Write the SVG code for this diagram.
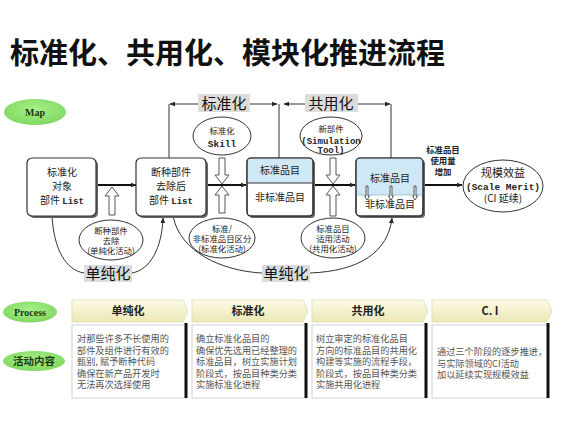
<svg xmlns="http://www.w3.org/2000/svg" width="579" height="434" viewBox="0 0 579 434">
<defs>
<marker id="ah" viewBox="0 0 10 10" refX="9" refY="5" markerWidth="6" markerHeight="6" orient="auto-start-reverse" markerUnits="userSpaceOnUse">
<path d="M0,1 L10,5 L0,9 z" fill="#222"/>
</marker>
<linearGradient id="chev" x1="0" y1="0" x2="0" y2="1">
<stop offset="0" stop-color="#fdfbe6"/>
<stop offset="1" stop-color="#ece7b4"/>
</linearGradient>
<radialGradient id="grn" cx="0.5" cy="0.4" r="0.6">
<stop offset="0" stop-color="#a8f08a"/>
<stop offset="1" stop-color="#7fd860"/>
</radialGradient>
</defs>
<style>
.cjk{font-family:"Noto Sans CJK SC","Liberation Sans",sans-serif;}
.t{font-family:"Noto Sans CJK SC","Liberation Sans",sans-serif;font-size:10px;fill:#222;text-anchor:middle;}
.s{font-family:"Noto Sans CJK SC","Liberation Sans",sans-serif;font-size:8.4px;fill:#222;text-anchor:middle;}
.m{font-family:"Liberation Mono","Noto Sans CJK SC",monospace;font-size:9.5px;fill:#222;font-weight:bold;}
.box{fill:#fff;stroke:#333;stroke-width:1.2;}
.shadow{fill:#666;}
.ell{fill:#fff;stroke:#333;stroke-width:1;}
.lbl{fill:#dcdcdc;}
.lt{font-family:"Noto Sans CJK SC","Liberation Sans",sans-serif;font-size:15px;fill:#111;text-anchor:middle;}
.ln{stroke:#333;stroke-width:1;fill:none;}
.main{stroke:#111;stroke-width:2;fill:none;marker-end:url(#ah);}
.hol{fill:#fff;stroke:#555;stroke-width:1;}
.g{fill:url(#grn);}
.gt{font-family:"Liberation Serif","Noto Sans CJK SC",serif;font-size:10px;font-weight:bold;fill:#1a3a10;text-anchor:middle;}
.ch{fill:url(#chev);stroke:#e4e0b8;stroke-width:1;}
.cht{font-family:"Noto Sans CJK SC","Liberation Sans",sans-serif;font-size:11px;font-weight:bold;fill:#222;text-anchor:middle;}
.cb{fill:#fff;stroke:#d0d0d0;stroke-width:1;}
.cbr{stroke:#111;stroke-width:3;}
.ct{font-family:"Noto Sans CJK SC","Liberation Sans",sans-serif;font-size:9.2px;fill:#555;}
</style>
<rect width="579" height="434" fill="#fff"/>
<text x="10" y="64" class="cjk" font-size="29" font-weight="bold" fill="#111">标准化、共用化、模块化推进流程</text>

<g id="map-label">
<ellipse cx="35" cy="112" rx="31" ry="13" class="g"/>
<text x="35" y="116" class="gt">Map</text>
</g>

<g id="connectors">
<line x1="170" y1="104" x2="277" y2="104" class="ln" marker-start="url(#ah)" marker-end="url(#ah)"/>
<line x1="284" y1="104" x2="390" y2="104" class="ln" marker-start="url(#ah)" marker-end="url(#ah)"/>
<line x1="169" y1="104" x2="169" y2="158" class="ln"/>
<line x1="279" y1="104" x2="279" y2="158" class="ln"/>
<line x1="391" y1="104" x2="391" y2="158" class="ln"/>
<path d="M109,215 L109,196 L105,196 L112,187 L119,196 L115,196 L115,215 Z" class="hol"/>
<path d="M219,158 L219,175 L215,175 L222,184 L229,175 L225,175 L225,158 Z" class="hol"/>
<path d="M219,213 L219,195 L215,195 L222,186 L229,195 L225,195 L225,213 Z" class="hol"/>
<path d="M330,158 L330,175 L326,175 L333,184 L340,175 L336,175 L336,158 Z" class="hol"/>
<path d="M330,216 L330,195 L326,195 L333,186 L340,195 L336,195 L336,216 Z" class="hol"/>
<line x1="97" y1="185" x2="136" y2="185" class="main"/>
<line x1="207" y1="185" x2="246" y2="185" class="main"/>
<line x1="314" y1="185" x2="355" y2="185" class="main"/>
<line x1="424" y1="185" x2="462" y2="185" class="main"/>
<path d="M52,216 C54,250 66,270 84,273" class="ln"/>
<path d="M132,273 C150,270 162,248 163,218" class="ln" marker-end="url(#ah)"/>
<path d="M173,216 C180,252 222,271 262,273" class="ln"/>
<path d="M310,273 C360,271 388,252 392,218" class="ln" marker-end="url(#ah)"/>
</g>

<g id="dim-std">
<rect x="198" y="94" width="52" height="18" class="lbl"/>
<text x="224" y="109" class="lt">标准化</text>
</g>
<g id="dim-common">
<rect x="305" y="94" width="53" height="18" class="lbl"/>
<text x="331" y="109" class="lt">共用化</text>
</g>

<g id="node-target-list">
<rect x="29" y="160" width="69" height="58" rx="5" class="shadow"/>
<rect x="27" y="158" width="69" height="58" rx="5" class="box"/>
<text class="t"><tspan x="62" y="176">标准化</tspan><tspan x="62" y="190">对象</tspan><tspan x="62" y="204">部件 <tspan class="m" style="font-size:9px">List</tspan></tspan></text>
</g>

<g id="node-after-list">
<rect x="138" y="160" width="70" height="58" rx="5" class="shadow"/>
<rect x="136" y="158" width="70" height="58" rx="5" class="box"/>
<text class="t"><tspan x="171" y="176">断种部件</tspan><tspan x="171" y="190">去除后</tspan><tspan x="171" y="204">部件 <tspan class="m" style="font-size:9px">List</tspan></tspan></text>
</g>

<g id="node-items-1">
<rect x="249" y="160" width="66" height="58" rx="4" class="shadow"/>
<rect x="247" y="158" width="66" height="58" rx="4" class="box"/>
<path d="M247.6,183 L247.6,162 Q247.6,158.6 251,158.6 L309,158.6 Q312.4,158.6 312.4,162 L312.4,183 Z" fill="#cfe8f6"/>
<line x1="247" y1="183" x2="313" y2="183" stroke="#333" stroke-width="1"/>
<rect x="247" y="158" width="66" height="58" rx="4" fill="none" stroke="#333" stroke-width="1.2"/>
<text x="280" y="174" class="t">标准品目</text>
<text x="280" y="201" class="t">非标准品目</text>
</g>

<g id="node-items-2">
<rect x="358" y="160" width="67" height="58" rx="4" class="shadow"/>
<rect x="356" y="158" width="67" height="58" rx="4" class="box"/>
<path d="M356.6,195 L356.6,162 Q356.6,158.6 360,158.6 L419,158.6 Q422.4,158.6 422.4,162 L422.4,195 Z" fill="#cfe8f6"/>
<line x1="356" y1="195" x2="423" y2="195" stroke="#7aa" stroke-width="0.6"/>
<rect x="356" y="158" width="67" height="58" rx="4" fill="none" stroke="#333" stroke-width="1.2"/>
<text x="390" y="182" class="t">标准品目</text>
<text x="390" y="208" class="t">非标准品目</text>
<path d="M366,186 L366,196 L364.5,196 L367,200 L369.5,196 L368,196 L368,186 Z" class="hol"/>
<path d="M390,186 L390,196 L388.5,196 L391,200 L393.5,196 L392,196 L392,186 Z" class="hol"/>
<path d="M414,186 L414,196 L412.5,196 L415,200 L417.5,196 L416,196 L416,186 Z" class="hol"/>
</g>

<g id="usage-label">
<text class="s" font-weight="bold" font-size="9.5"><tspan x="443" y="153">标准品目</tspan><tspan x="443" y="164">使用量</tspan><tspan x="443" y="175">增加</tspan></text>
</g>

<g id="node-scale-merit">
<ellipse cx="503" cy="186" rx="40" ry="26" class="ell" stroke-width="1.4"/>
<text class="t"><tspan x="503" y="177" font-size="11">规模效益</tspan><tspan x="503" y="190" class="m">(Scale Merit)</tspan><tspan x="503" y="202">(CI 延续)</tspan></text>
</g>

<g id="ell-skill">
<ellipse cx="222" cy="136" rx="29" ry="19" class="ell"/>
<text class="s" font-size="9.5"><tspan x="222" y="134">标准化</tspan><tspan x="222" y="147" class="m">Skill</tspan></text>
</g>

<g id="ell-newpart">
<ellipse cx="331" cy="136" rx="31" ry="19" class="ell"/>
<text class="s" font-size="9.5"><tspan x="331" y="132">新部件</tspan><tspan x="331" y="144" class="m" style="font-size:9px">(Simulation</tspan><tspan x="331" y="153" class="m" style="font-size:9px">Tool)</tspan></text>
</g>

<g id="ell-discontinue">
<ellipse cx="111" cy="240" rx="32" ry="20" class="ell"/>
<text class="s"><tspan x="111" y="233.5">断种部件</tspan><tspan x="111" y="244">去除</tspan><tspan x="111" y="254">(单纯化活动)</tspan></text>
</g>

<g id="ell-classify">
<ellipse cx="222" cy="238" rx="33" ry="20" class="ell"/>
<text class="s"><tspan x="222" y="231.5">标准/</tspan><tspan x="222" y="242">非标准品目区分</tspan><tspan x="222" y="252">(标准化活动)</tspan></text>
</g>

<g id="ell-apply">
<ellipse cx="333" cy="238" rx="32" ry="20" class="ell"/>
<text class="s"><tspan x="333" y="231.5">标准品目</tspan><tspan x="333" y="242">适用活动</tspan><tspan x="333" y="252">(共用化活动)</tspan></text>
</g>

<g id="simplify-1">
<rect x="84" y="265" width="48" height="17" class="lbl"/>
<text x="108" y="279" class="lt">单纯化</text>
</g>
<g id="simplify-2">
<rect x="262" y="265" width="48" height="17" class="lbl"/>
<text x="286" y="279" class="lt">单纯化</text>
</g>

<g id="process-label">
<ellipse cx="30" cy="312" rx="27" ry="10.5" class="g"/>
<text x="30" y="315.5" class="gt">Process</text>
</g>
<g id="activity-label">
<ellipse cx="34" cy="361" rx="31" ry="10" class="g"/>
<text x="34" y="365" class="cjk" font-size="10.5" font-weight="bold" fill="#1a3a10" text-anchor="middle">活动内容</text>
</g>

<g id="phase-simplify">
<path d="M72,300 L183,300 L188,311 L183,322 L72,322 Z" class="ch"/>
<text x="128" y="315" class="cht">单纯化</text>
<rect x="72" y="325" width="114" height="73" class="cb"/>
<line x1="186" y1="323" x2="186" y2="398" class="cbr"/>
<text class="ct"><tspan x="77" y="342">对那些许多不长使用的</tspan><tspan x="77" y="353.5">部件及组件进行有效的</tspan><tspan x="77" y="365">甄别, 赋予断种代码</tspan><tspan x="77" y="376.5">确保在新产品开发时</tspan><tspan x="77" y="388">无法再次选择使用</tspan></text>
</g>

<g id="phase-standard">
<path d="M192,300 L303,300 L308,311 L303,322 L192,322 Z" class="ch"/>
<text x="248" y="315" class="cht">标准化</text>
<rect x="192" y="325" width="114" height="73" class="cb"/>
<line x1="306" y1="323" x2="306" y2="398" class="cbr"/>
<text class="ct"><tspan x="196" y="342">确立标准化品目的</tspan><tspan x="196" y="353.5">确保优先选用已经整理的</tspan><tspan x="196" y="365">标准品目，树立实施计划</tspan><tspan x="196" y="376.5">阶段式，按品目种类分类</tspan><tspan x="196" y="388">实施标准化进程</tspan></text>
</g>

<g id="phase-common">
<path d="M312,300 L423,300 L428,311 L423,322 L312,322 Z" class="ch"/>
<text x="368" y="315" class="cht">共用化</text>
<rect x="312" y="325" width="114" height="73" class="cb"/>
<line x1="426" y1="323" x2="426" y2="398" class="cbr"/>
<text class="ct"><tspan x="316" y="342">树立审定的标准化品目</tspan><tspan x="316" y="353.5">方向的标准品目的共用化</tspan><tspan x="316" y="365">构建等实施的流程手段，</tspan><tspan x="316" y="376.5">阶段式，按品目种类分类</tspan><tspan x="316" y="388">实施共用化进程</tspan></text>
</g>

<g id="phase-ci">
<path d="M432,300 L547,300 L552,311 L547,322 L432,322 Z" class="ch"/>
<text x="490" y="315" class="cht">C. I</text>
<rect x="432" y="325" width="116" height="73" class="cb"/>
<line x1="548" y1="323" x2="548" y2="398" class="cbr"/>
<text class="ct"><tspan x="437" y="355">通过三个阶段的逐步推进，</tspan><tspan x="437" y="366.5">与实际领域的CI活动</tspan><tspan x="437" y="378">加以延续实现规模效益</tspan></text>
</g>
</svg>
